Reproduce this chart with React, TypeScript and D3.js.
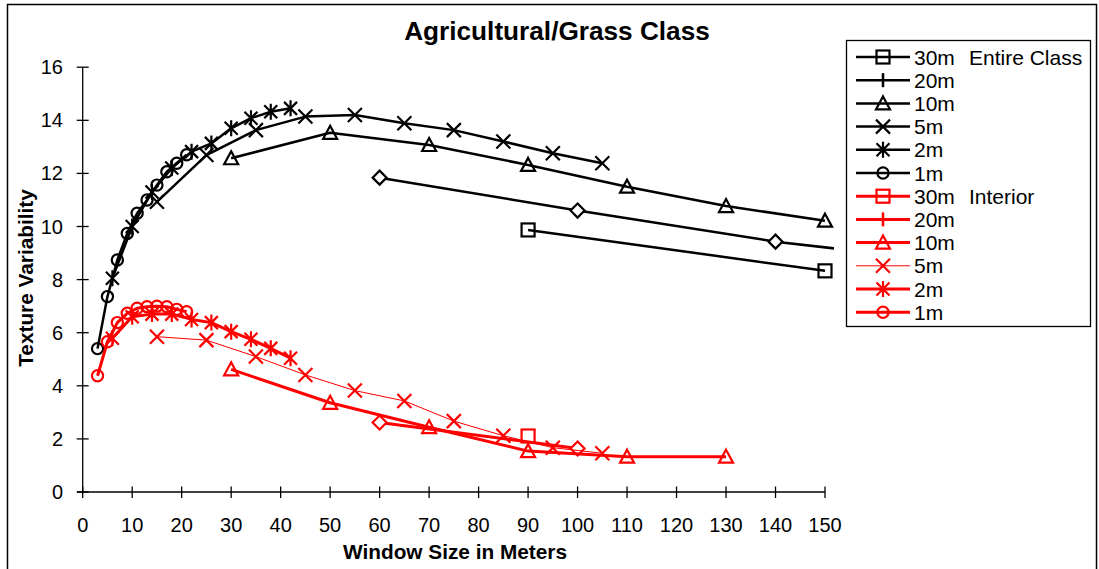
import React from "react";
import * as d3 from "d3";

const xTicks = [0, 10, 20, 30, 40, 50, 60, 70, 80, 90, 100, 110, 120, 130, 140, 150];
const yTicks = [0, 2, 4, 6, 8, 10, 12, 14, 16];

// Entire Class (black)
const e30x = [90, 150];
const e30y = [9.87, 8.33];
const e20x = [60, 100, 140, 180];
const e20y = [11.84, 10.6, 9.43, 8.57];
const e10x = [30, 50, 70, 90, 110, 130, 150];
const e10y = [12.57, 13.53, 13.07, 12.32, 11.5, 10.77, 10.22];
const e5x = [15, 25, 35, 45, 55, 65, 75, 85, 95, 105];
const e5y = [10.93, 12.69, 13.63, 14.14, 14.2, 13.89, 13.63, 13.2, 12.76, 12.38];
const e2x = [6, 10, 14, 18, 22, 26, 30, 34, 38, 42];
const e2y = [8.05, 10.0, 11.3, 12.2, 12.82, 13.13, 13.7, 14.08, 14.32, 14.45];
const e1x = [3, 5, 7, 9, 11, 13, 15, 17, 19, 21];
const e1y = [5.4, 7.36, 8.74, 9.74, 10.5, 11.0, 11.56, 12.06, 12.38, 12.7];

// Interior (red)
const i30x = [90];
const i30y = [2.11];
const i20x = [60, 100];
const i20y = [2.62, 1.64];
const i10x = [30, 50, 70, 90, 110, 130];
const i10y = [4.62, 3.36, 2.44, 1.54, 1.33, 1.33];
const i5x = [15, 25, 35, 45, 55, 65, 75, 85, 95, 105];
const i5y = [5.85, 5.72, 5.1, 4.41, 3.82, 3.43, 2.67, 2.12, 1.67, 1.46];
const i2x = [6, 10, 14, 18, 22, 26, 30, 34, 38, 42];
const i2y = [5.79, 6.6, 6.7, 6.7, 6.5, 6.38, 6.04, 5.75, 5.41, 5.04];
const i1x = [3, 5, 7, 9, 11, 13, 15, 17, 19, 21];
const i1y = [4.38, 5.66, 6.38, 6.73, 6.92, 6.98, 7.0, 6.98, 6.88, 6.79];

const legendLabels = ["30m", "20m", "10m", "5m", "2m", "1m", "30m", "20m", "10m", "5m", "2m", "1m"];
const groupLabels = ["Entire Class", "Interior"];

type Series = { xs: number[]; ys: number[]; color: string; marker: string; lw: number; legendMarker: string };

const series: Series[] = [
  { xs: e30x, ys: e30y, color: "#000", marker: "square", lw: 2.5, legendMarker: "square" },
  { xs: e20x, ys: e20y, color: "#000", marker: "diamond", lw: 2.5, legendMarker: "vbar" },
  { xs: e10x, ys: e10y, color: "#000", marker: "triangle", lw: 2.5, legendMarker: "triangle" },
  { xs: e5x, ys: e5y, color: "#000", marker: "x", lw: 2.5, legendMarker: "x" },
  { xs: e2x, ys: e2y, color: "#000", marker: "star", lw: 2.5, legendMarker: "star" },
  { xs: e1x, ys: e1y, color: "#000", marker: "circle", lw: 2.5, legendMarker: "circle" },
  { xs: i30x, ys: i30y, color: "#ff0000", marker: "square", lw: 3, legendMarker: "square" },
  { xs: i20x, ys: i20y, color: "#ff0000", marker: "diamond", lw: 3, legendMarker: "vbar" },
  { xs: i10x, ys: i10y, color: "#ff0000", marker: "triangle", lw: 3, legendMarker: "triangle" },
  { xs: i5x, ys: i5y, color: "#ff0000", marker: "x", lw: 1, legendMarker: "x" },
  { xs: i2x, ys: i2y, color: "#ff0000", marker: "star", lw: 3, legendMarker: "star" },
  { xs: i1x, ys: i1y, color: "#ff0000", marker: "circle", lw: 3, legendMarker: "circle" },
];

const FONT = "'Liberation Sans', Arial, sans-serif";

function Marker({ type, x, y, color }: { type: string; x: number; y: number; color: string }) {
  const sw = 2.2;
  const common = { fill: "none", stroke: color, strokeWidth: sw };
  switch (type) {
    case "circle":
      return <circle cx={x} cy={y} r={5.6} {...common} />;
    case "square":
      return <rect x={x - 6.5} y={y - 6.5} width={13} height={13} {...common} />;
    case "diamond":
      return <path d={`M${x},${y - 7}L${x + 7},${y}L${x},${y + 7}L${x - 7},${y}Z`} {...common} fill="#fff" />;
    case "triangle":
      return <path d={`M${x},${y - 7}L${x + 7},${y + 6}L${x - 7},${y + 6}Z`} {...common} />;
    case "x":
      return <path d={`M${x - 7},${y - 7}L${x + 7},${y + 7}M${x + 7},${y - 7}L${x - 7},${y + 7}`} {...common} />;
    case "star":
      return (
        <path
          d={`M${x - 6.5},${y - 6.5}L${x + 6.5},${y + 6.5}M${x + 6.5},${y - 6.5}L${x - 6.5},${y + 6.5}M${x},${y - 8}L${x},${y + 8}`}
          {...common}
        />
      );
    case "vbar":
      return <path d={`M${x},${y - 7}L${x},${y + 7}`} {...common} strokeWidth={2.5} />;
    default:
      return null;
  }
}

export default function App() {
  const x = d3.scaleLinear().domain([0, 150]).range([82.7, 825]);
  const y = d3.scaleLinear().domain([0, 16]).range([492, 67.2]);
  const line = d3
    .line<[number, number]>()
    .x((d) => x(d[0]))
    .y((d) => y(d[1]));

  const legX0 = 856;
  const legX1 = 910;
  const legY0 = 57;
  const legDy = 23.2;

  return (
    <svg
      width={1099}
      height={569}
      style={{ position: "absolute", left: 0, top: 0, background: "#fff" }}
      fontFamily={FONT}
    >
      <defs>
        <clipPath id="plotclip">
          <rect x={76} y={55} width={758} height={445} />
        </clipPath>
      </defs>
      <rect x={0} y={0} width={1099} height={569} fill="#fff" />
      <rect x={7.5} y={4.5} width={1089} height={600} fill="none" stroke="#000" strokeWidth={1.5} />

      <text x={557} y={40} textAnchor="middle" fontSize={26.2} fontWeight="bold">
        Agricultural/Grass Class
      </text>

      {/* axes */}
      <line x1={x(0)} x2={x(0)} y1={y(16)} y2={y(0)} stroke="#000" strokeWidth={1.3} />
      <line x1={77} x2={x(150)} y1={y(0)} y2={y(0)} stroke="#000" strokeWidth={1.3} />
      {yTicks.map((t) => (
        <g key={"y" + t}>
          <line x1={x(0) - 6} x2={x(0) + 6} y1={y(t)} y2={y(t)} stroke="#000" strokeWidth={1.3} />
          <text x={63} y={y(t)} dy="0.35em" textAnchor="end" fontSize={20}>
            {t}
          </text>
        </g>
      ))}
      {xTicks.map((t) => (
        <g key={"x" + t}>
          <line x1={x(t)} x2={x(t)} y1={y(0) - 5.5} y2={y(0) + 6} stroke="#000" strokeWidth={1.3} />
          <text x={x(t)} y={532} textAnchor="middle" fontSize={20}>
            {t}
          </text>
        </g>
      ))}
      <text x={455} y={559} textAnchor="middle" fontSize={20.8} fontWeight="bold">
        Window Size in Meters
      </text>
      <text
        transform={`translate(33,278) rotate(-90)`}
        textAnchor="middle"
        fontSize={20.8}
        fontWeight="bold"
      >
        Texture Variability
      </text>

      {/* series */}
      <g clipPath="url(#plotclip)">
        {series.map((s, i) => {
          const pts: [number, number][] = s.xs.map((v, j) => [v, s.ys[j]]);
          return (
            <g key={"s" + i}>
              {pts.length > 1 && (
                <path d={line(pts) || ""} fill="none" stroke={s.color} strokeWidth={s.lw} strokeLinejoin="round" />
              )}
              {pts.map((p, j) =>
                p[0] <= 150 ? <Marker key={j} type={s.marker} x={x(p[0])} y={y(p[1])} color={s.color} /> : null
              )}
            </g>
          );
        })}
      </g>

      {/* legend */}
      <rect x={846.5} y={40.5} width={244} height={286} fill="#fff" stroke="#000" strokeWidth={1.3} />
      {series.map((s, i) => {
        const cy = legY0 + i * legDy;
        return (
          <g key={"l" + i}>
            <line x1={legX0} x2={legX1} y1={cy} y2={cy} stroke={s.color} strokeWidth={s.lw} />
            <Marker type={s.legendMarker} x={(legX0 + legX1) / 2} y={cy} color={s.color} />
            <text x={914} y={cy} dy="0.36em" fontSize={21}>
              {legendLabels[i]}
            </text>
            {i === 0 && (
              <text x={969} y={cy} dy="0.36em" fontSize={21}>
                {groupLabels[0]}
              </text>
            )}
            {i === 6 && (
              <text x={969} y={cy} dy="0.36em" fontSize={21}>
                {groupLabels[1]}
              </text>
            )}
          </g>
        );
      })}
    </svg>
  );
}
